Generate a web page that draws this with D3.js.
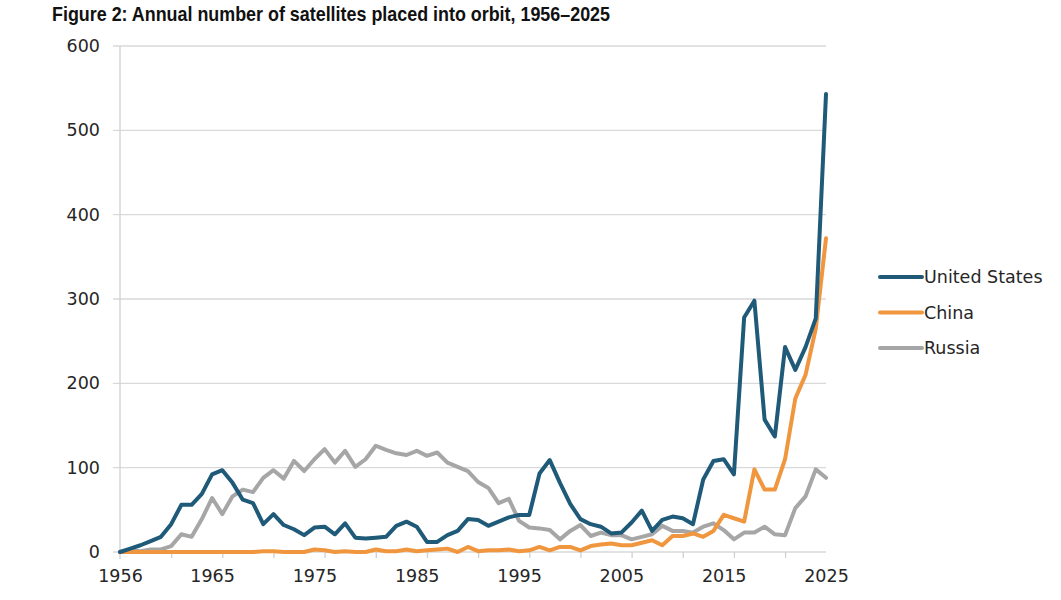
<!DOCTYPE html>
<html>
<head>
<meta charset="utf-8">
<script src="https://cdn.jsdelivr.net/npm/d3@7"></script>
<style>
  body { margin: 0; background: #fff; }
  svg { display: block; }
  .tick-lbl text { font-family: "DejaVu Sans", sans-serif; font-size: 17.5px; fill: #262626; }
</style>
</head>
<body>
<svg></svg>
<script>
const years = d3.range(1956, 2026);

const usa = [0, 4, 8, 13, 18, 33, 56, 56, 69, 92,
  97, 82, 62, 58, 33, 45, 32, 27, 20, 29,
  30, 21, 34, 17, 16, 17, 18, 31, 36, 30,
  12, 12, 20, 25, 39, 38, 31, 36, 41, 44,
  44, 93, 109, 82, 57, 39, 33, 30, 22, 23,
  35, 49, 25, 38, 42, 40, 33, 86, 108, 110,
  92, 278, 298, 157, 137, 243, 216, 243, 277, 543];

const china = [0, 0, 0, 0, 0, 0, 0, 0, 0, 0,
  0, 0, 0, 0, 1, 1, 0, 0, 0, 3,
  2, 0, 1, 0, 0, 3, 1, 1, 3, 1,
  2, 3, 4, 0, 6, 1, 2, 2, 3, 1,
  2, 6, 2, 6, 6, 2, 7, 9, 10, 8,
  8, 11, 14, 8, 19, 19, 22, 18, 25, 44,
  40, 36, 98, 74, 74, 110, 182, 210, 265, 372];

const russia = [0, 2, 1, 3, 3, 7, 21, 18, 39, 64,
  45, 66, 74, 71, 88, 97, 87, 108, 96, 110,
  122, 106, 120, 101, 110, 126, 121, 117, 115, 120,
  114, 118, 106, 101, 96, 83, 76, 58, 63, 37,
  29, 28, 26, 15, 25, 32, 19, 23, 20, 20,
  15, 18, 21, 31, 25, 25, 23, 30, 34, 26,
  15, 23, 23, 30, 21, 20, 52, 66, 98, 88];

const seriesNames = ['United States', 'China', 'Russia'];
const seriesColors = ['#1f5a79', '#f0963f', '#a6a6a6'];
const yTicks = [0, 100, 200, 300, 400, 500, 600];
const xLabelYears = [1956, 1965, 1975, 1985, 1995, 2005, 2015, 2025];
const xTickYears = [1961, 1966, 1971, 1976, 1981, 1986, 1991, 1996, 2001, 2006, 2011, 2016, 2021];

const svg = d3.select('svg')
    .attr('width', 1061)
    .attr('height', 600);

const x = d3.scaleLinear().domain([1956, 2025]).range([120, 826]);
const y = d3.scaleLinear().domain([0, 600]).range([552, 46]);

// title (condensed bold, squeezed to the reference width)
svg.append('text')
    .attr('x', 52)
    .attr('y', 21)
    .attr('textLength', 558)
    .attr('lengthAdjust', 'spacingAndGlyphs')
    .text('Figure 2: Annual number of satellites placed into orbit, 1956–2025')
    .attr('fill', '#111')
    .style('font-family', '"Liberation Sans", Arial, sans-serif')
    .style('font-weight', 'bold')
    .style('font-size', '20.5px');

// gridlines
svg.selectAll('.grid')
    .data(yTicks)
    .enter()
    .append('line')
    .attr('x1', 113)
    .attr('x2', 826)
    .attr('y1', d => y(d))
    .attr('y2', d => y(d))
    .attr('stroke', '#d9d9d9')
    .attr('stroke-width', 1.3);

// y axis line
svg.append('line')
    .attr('x1', 120).attr('x2', 120)
    .attr('y1', y(600)).attr('y2', y(0) + 7)
    .attr('stroke', '#d0d0d0')
    .attr('stroke-width', 1.3);

// y labels
svg.append('g')
    .attr('class', 'tick-lbl')
    .attr('transform', 'translate(100,0)')
    .call(d3.axisLeft(y).tickValues(yTicks).tickSize(0).tickPadding(0))
    .call(g => g.select('.domain').remove());

// x tick marks
svg.append('g')
    .attr('transform', `translate(0,${y(0)})`)
    .call(d3.axisBottom(x).tickValues(xTickYears).tickSize(6).tickFormat(''))
    .call(g => g.select('.domain').remove())
    .call(g => g.selectAll('.tick line').attr('stroke', '#d0d0d0').attr('stroke-width', 1.3));

// x labels
svg.append('g')
    .attr('class', 'tick-lbl')
    .attr('transform', `translate(0,${y(0)})`)
    .call(d3.axisBottom(x).tickValues(xLabelYears).tickSize(0).tickPadding(18).tickFormat(d3.format('d')))
    .call(g => g.select('.domain').remove());

const line = d3.line()
    .x((d, i) => x(years[i]))
    .y(d => y(d));

const allSeries = [usa, china, russia];

// draw russia first, then china, us on top
[2, 1, 0].forEach(k => {
    svg.append('path')
        .datum(allSeries[k])
        .attr('d', line)
        .attr('fill', 'none')
        .attr('stroke', seriesColors[k])
        .attr('stroke-width', 4)
        .attr('stroke-linejoin', 'round')
        .attr('stroke-linecap', 'round');
});

// legend
const legend = svg.selectAll('.legend')
    .data(seriesNames)
    .enter()
    .append('g')
    .attr('transform', (d, i) => `translate(0,${277 + i * 35.5})`);

legend.append('line')
    .attr('x1', 880).attr('x2', 922)
    .attr('stroke', (d, i) => seriesColors[i])
    .attr('stroke-width', 4)
    .attr('stroke-linecap', 'round');

legend.append('text')
    .attr('x', 924)
    .attr('dy', '0.35em')
    .text(d => d)
    .attr('fill', '#262626')
    .style('font-family', '"DejaVu Sans", sans-serif')
    .style('font-size', '17.5px');
</script>
</body>
</html>
